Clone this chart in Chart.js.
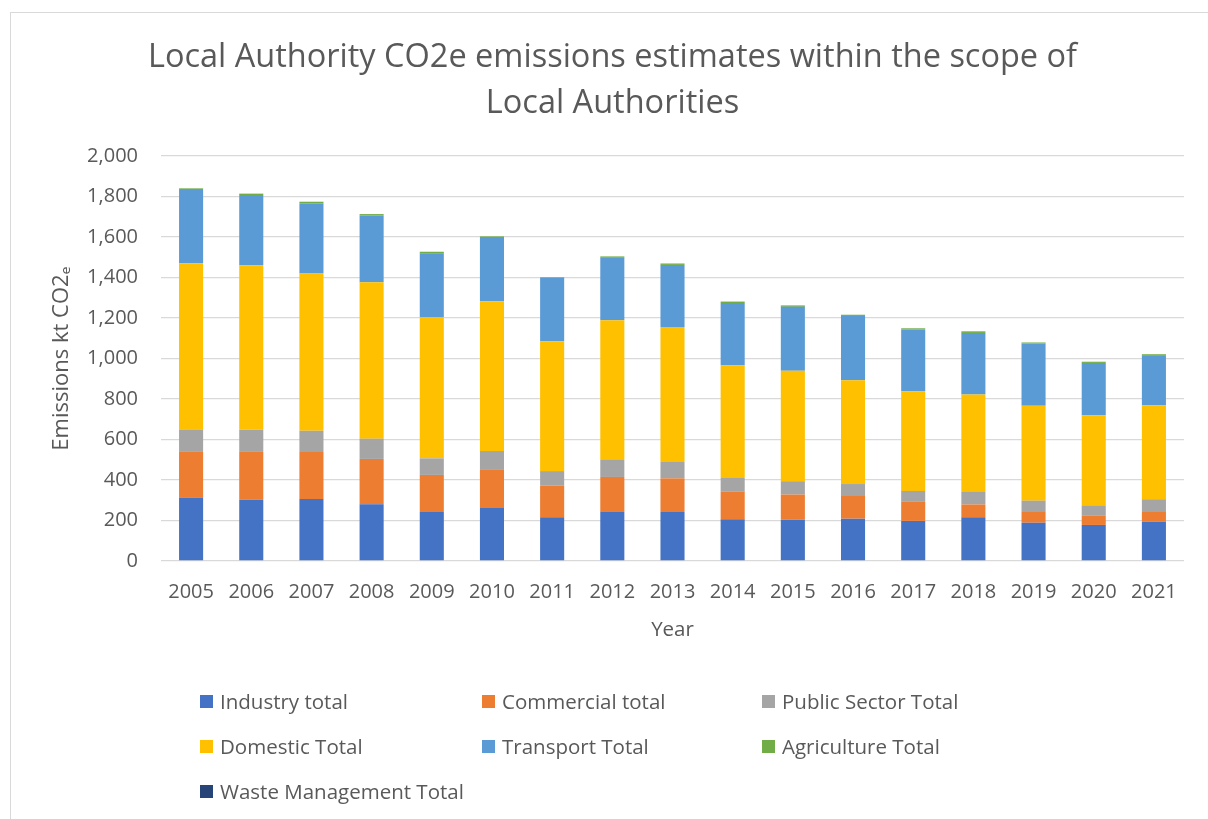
<!DOCTYPE html>
<html>
<head>
<meta charset="utf-8">
<script src="https://cdn.jsdelivr.net/npm/chart.js@4.4.0/dist/chart.umd.min.js"></script>
<style>
  html, body { margin: 0; padding: 0; background: #fff; width: 1208px; height: 819px; overflow: hidden; }
  #frame { position: absolute; left: 10px; top: 12px; width: 1400px; height: 1000px; border: 1px solid #d9d9d9; box-sizing: border-box; }
  #wrap { position: absolute; left: 0; top: 0; width: 1208px; height: 660px; }
  #legend { position: absolute; left: 0; top: 0; width: 1208px; height: 819px; pointer-events: none;
            font-family: "Open Sans", "Noto Sans", sans-serif; font-size: 20.5px; color: #595959; }
  .li { position: absolute; display: flex; align-items: center; height: 26px; white-space: nowrap; }
  .box { width: 13px; height: 13px; margin-right: 7px; }
</style>
</head>
<body>
<div id="frame"></div>
<div id="wrap"><canvas id="c" width="1208" height="660"></canvas></div>
<div id="legend"></div>
<script>
const years = ["2005","2006","2007","2008","2009","2010","2011","2012","2013","2014","2015","2016","2017","2018","2019","2020","2021"];
const industry    = [313,303,306,280,242,262,216,244,242,206,203,209,198,216,189,178,193];
const commercial  = [229,239,232,224,183,191,156,171,166,138,125,112, 94, 63, 53, 45, 53];
const publicSector= [108,107,105,100, 82, 90, 72, 84, 81, 66, 66, 59, 54, 62, 56, 49, 59];
const domestic    = [820,811,777,772,698,739,641,690,667,556,545,512,492,481,468,448,464];
const transport   = [362,347,347,329,314,313,314,308,306,308,316,318,305,304,308,258,244];
const agriculture = [  8,  7,  7,  8,  8,  8,  3,  7,  7,  7,  7,  6,  6,  8,  5,  6,  8];
const waste       = [  0,  0,  0,  0,  0,  0,  0,  0,  0,  0,  0,  0,  0,  0,  0,  0,  0];

const seriesNames = ["Industry total","Commercial total","Public Sector Total","Domestic Total","Transport Total","Agriculture Total","Waste Management Total"];
const seriesColors = ["#4472C4","#ED7D31","#A5A5A5","#FFC000","#5B9BD5","#70AD47","#264478"];
const seriesData = [industry, commercial, publicSector, domestic, transport, agriculture, waste];

const titleLines = ["Local Authority CO2e emissions estimates within the scope of", "Local Authorities"];
const yTitle = "Emissions kt CO2\u2091";
const xTitle = "Year";

const FONT = '"Open Sans", "Noto Sans", sans-serif';
const GREY = "#595959";

const datasets = seriesNames.map((n, i) => ({
  label: n,
  data: seriesData[i],
  backgroundColor: seriesColors[i],
  borderWidth: 0,
  categoryPercentage: 1.0,
  barPercentage: 0.4
}));

new Chart(document.getElementById("c"), {
  type: "bar",
  data: { labels: years, datasets },
  options: {
    responsive: false,
    animation: false,
    layout: { padding: { left: 41, right: 24, top: 0, bottom: 9 } },
    plugins: {
      legend: { display: false },
      tooltip: { enabled: false },
      title: {
        display: true,
        text: titleLines,
        color: GREY,
        font: { family: FONT, size: 32.5, weight: "normal", lineHeight: 1.43 },
        padding: { top: 34, bottom: 29 }
      }
    },
    scales: {
      x: {
        stacked: true,
        grid: { display: false, drawTicks: false },
        border: { display: false },
        ticks: { color: GREY, font: { family: FONT, size: 20 }, padding: 19, maxRotation: 0 },
        title: { display: true, text: xTitle, color: GREY, font: { family: FONT, size: 20.5, lineHeight: 1.2 }, padding: { top: 0, bottom: 9 } },
        afterFit: (s) => { s.height = 90; }
      },
      y: {
        stacked: true,
        min: 0, max: 2000,
        ticks: { stepSize: 200, color: GREY, font: { family: FONT, size: 20 }, padding: 23 },
        grid: { color: "#d9d9d9", lineWidth: 1.3, drawTicks: false },
        border: { display: false },
        title: { display: true, text: yTitle, color: GREY, font: { family: FONT, size: 22, lineHeight: 1.2 }, padding: { top: 8, bottom: 0 } },
        afterFit: (s) => { s.width = 120; }
      }
    }
  }
});

// Legend (3-column grid like the reference)
const legendCols = [200, 482, 762];
const legendRows = [701, 746, 791];
const lg = document.getElementById("legend");
seriesNames.forEach((n, i) => {
  const d = document.createElement("div");
  d.className = "li";
  d.style.left = legendCols[i % 3] + "px";
  d.style.top = (legendRows[Math.floor(i / 3)] - 13) + "px";
  const b = document.createElement("span");
  b.className = "box";
  b.style.background = seriesColors[i];
  const t = document.createElement("span");
  t.textContent = n;
  d.appendChild(b); d.appendChild(t);
  lg.appendChild(d);
});
</script>
</body>
</html>
